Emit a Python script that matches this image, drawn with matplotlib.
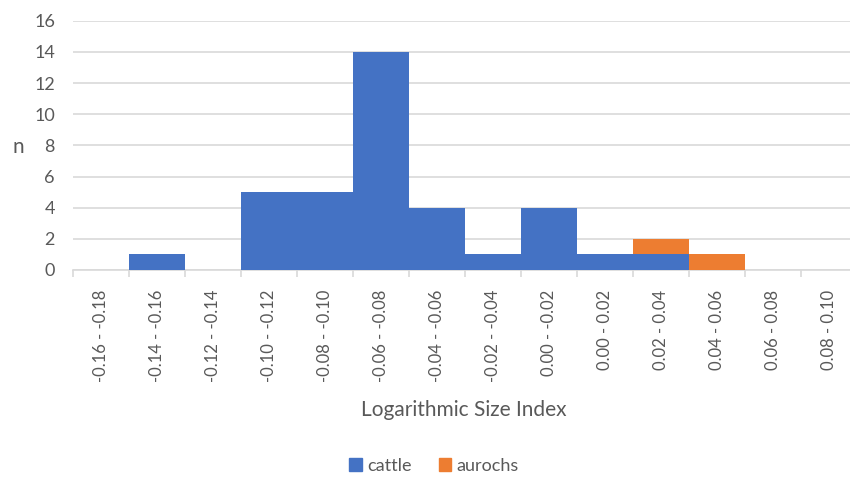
import matplotlib.pyplot as plt
import numpy as np
from matplotlib.patches import Patch

plt.rcParams['font.family'] = ['Lato', 'DejaVu Sans']

categories = ["-0.16 - -0.18", "-0.14 - -0.16", "-0.12 - -0.14", "-0.10 - -0.12",
              "-0.08 - -0.10", "-0.06 - -0.08", "-0.04 - -0.06", "-0.02 - -0.04",
              "0.00 - -0.02", "0.00 - 0.02", "0.02 - 0.04", "0.04 - 0.06",
              "0.06 - 0.08", "0.08 - 0.10"]
cattle = [0, 1, 0, 5, 5, 14, 4, 1, 4, 1, 1, 0, 0, 0]
aurochs = [0, 0, 0, 0, 0, 0, 0, 0, 0, 0, 1, 1, 0, 0]
yticks = [0, 2, 4, 6, 8, 10, 12, 14, 16]

blue = '#4472C4'
orange = '#ED7D31'
txt = '#595959'
grid = '#D9D9D9'

fig = plt.figure(figsize=(8.5, 4.83), dpi=100)
ax = fig.add_axes([73 / 850, (483 - 270) / 483, 784 / 850, 249.3 / 483])

x = np.arange(len(categories))
ax.bar(x, cattle, width=1.0, color=blue, linewidth=0, zorder=2)
ax.bar(x, aurochs, width=1.0, bottom=cattle, color=orange, linewidth=0, zorder=2)

ax.set_xlim(-0.5, len(categories) - 0.5)
ax.set_ylim(0, 16)
ax.set_yticks(yticks)
ax.yaxis.grid(True, color=grid, linewidth=1.2, zorder=0)
ax.set_axisbelow(True)

for s in ['top', 'right', 'left']:
    ax.spines[s].set_visible(False)
ax.spines['bottom'].set_color(grid)
ax.spines['bottom'].set_linewidth(1.2)
ax.spines['bottom'].set_zorder(1)

ax.set_xticks(np.arange(len(categories) + 1) - 0.5)
ax.set_xticklabels([])
ax.set_xticks(x, minor=True)
ax.set_xticklabels(categories, minor=True, rotation=90, fontsize=12, color=txt)
ax.tick_params(axis='x', which='major', length=5, color=grid, width=1.2)
ax.tick_params(axis='x', which='minor', length=0, pad=14)
ax.tick_params(axis='y', length=0, labelsize=13, labelcolor=txt, pad=13)

fig.text(12 / 850, 1 - 147 / 483, 'n', fontsize=15, color=txt, ha='left', va='center')
fig.text(464 / 850, 1 - 410 / 483, 'Logarithmic Size Index', fontsize=15,
         color=txt, ha='center', va='center')

handles = [Patch(color=blue, label='cattle'), Patch(color=orange, label='aurochs')]
fig.legend(handles=handles, loc='center', bbox_to_anchor=(434 / 850, 1 - 466 / 483),
           ncol=2, frameon=False, fontsize=13, handlelength=0.7, handleheight=0.7,
           handletextpad=0.3, columnspacing=1.5, labelcolor=txt)

fig.savefig('out.png', dpi=100, facecolor='white')
